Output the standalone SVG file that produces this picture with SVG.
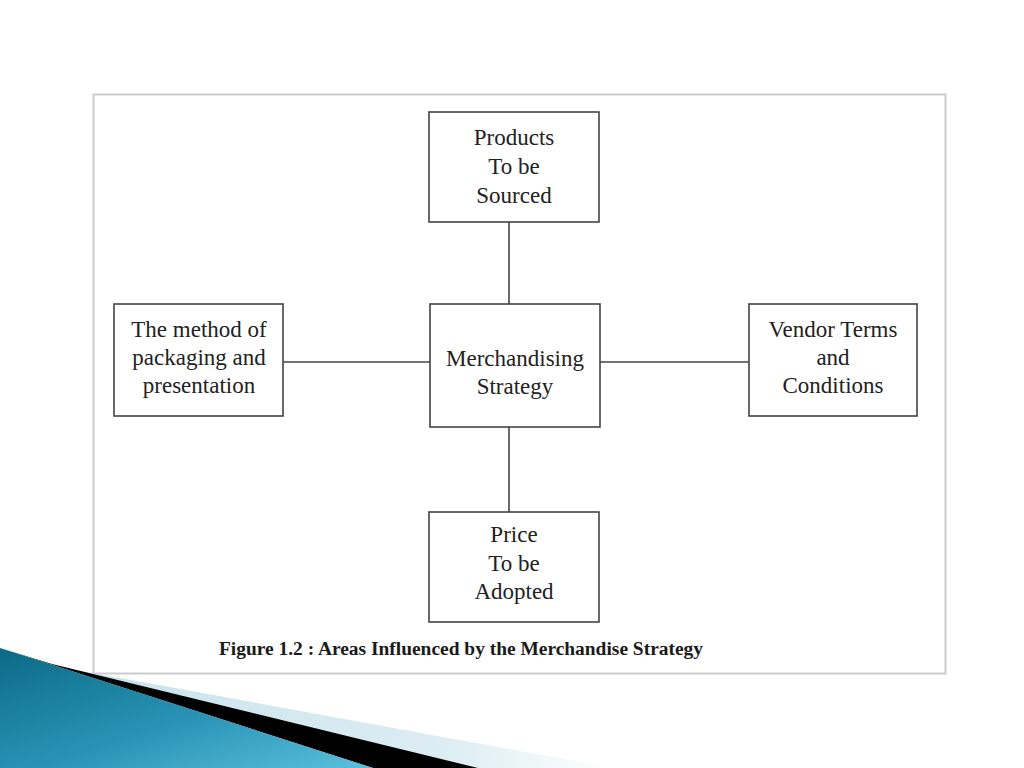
<svg xmlns="http://www.w3.org/2000/svg" width="1024" height="768" viewBox="0 0 1024 768">
<defs>
<linearGradient id="blueG" x1="0" y1="0" x2="1" y2="1">
<stop offset="0" stop-color="#0b6a86"/>
<stop offset="0.55" stop-color="#2a93b5"/>
<stop offset="1" stop-color="#5cc0dc"/>
</linearGradient>
<linearGradient id="lightG" x1="0" y1="0" x2="1" y2="0">
<stop offset="0" stop-color="#c9e2ec"/>
<stop offset="0.7" stop-color="#dcedf3"/>
<stop offset="1" stop-color="#ffffff"/>
</linearGradient>
<style>
.box{fill:#ffffff;stroke:#444444;stroke-width:1.6}
.t{font-family:"Liberation Serif","Times New Roman",serif;font-size:23px;fill:#222222;text-anchor:middle}
.cap{font-family:"Liberation Serif","Times New Roman",serif;font-size:18px;font-weight:bold;fill:#1a1a1a}
.line{stroke:#444444;stroke-width:1.6;fill:none}
</style>
</defs>
<rect x="0" y="0" width="1024" height="768" fill="#ffffff"/>
<rect x="93.5" y="94.5" width="852" height="579" fill="#ffffff" stroke="#cccccc" stroke-width="2"/>
<g id="connectors">
<line class="line" x1="509" y1="222" x2="509" y2="304"/>
<line class="line" x1="509" y1="427" x2="509" y2="512"/>
<line class="line" x1="283" y1="362" x2="430" y2="362"/>
<line class="line" x1="600" y1="362" x2="749" y2="362"/>
</g>
<g id="products">
<rect class="box" x="429" y="112" width="170" height="110"/>
<text class="t" x="514" y="145">Products</text>
<text class="t" x="514" y="174">To be</text>
<text class="t" x="514" y="203">Sourced</text>
</g>
<g id="packaging">
<rect class="box" x="114" y="304" width="169" height="112"/>
<text class="t" x="199" y="337">The method of</text>
<text class="t" x="199" y="365">packaging and</text>
<text class="t" x="199" y="393">presentation</text>
</g>
<g id="strategy">
<rect class="box" x="430" y="304" width="170" height="123"/>
<text class="t" x="515" y="366">Merchandising</text>
<text class="t" x="515" y="394">Strategy</text>
</g>
<g id="vendor">
<rect class="box" x="749" y="304" width="168" height="112"/>
<text class="t" x="833" y="337">Vendor Terms</text>
<text class="t" x="833" y="365">and</text>
<text class="t" x="833" y="393">Conditions</text>
</g>
<g id="price">
<rect class="box" x="429" y="512" width="170" height="110"/>
<text class="t" x="514" y="542">Price</text>
<text class="t" x="514" y="571">To be</text>
<text class="t" x="514" y="599">Adopted</text>
</g>
<text class="cap" x="219" y="655" textLength="484" lengthAdjust="spacingAndGlyphs">Figure 1.2 : Areas Influenced by the Merchandise Strategy</text>
<polygon points="93,673 613,768 300,768 60,668" fill="url(#lightG)"/>
<polygon points="52,664 478,768 373,768 0,648" fill="#000000"/>
<polygon points="0,648 373,768 0,768" fill="url(#blueG)"/>
</svg>
